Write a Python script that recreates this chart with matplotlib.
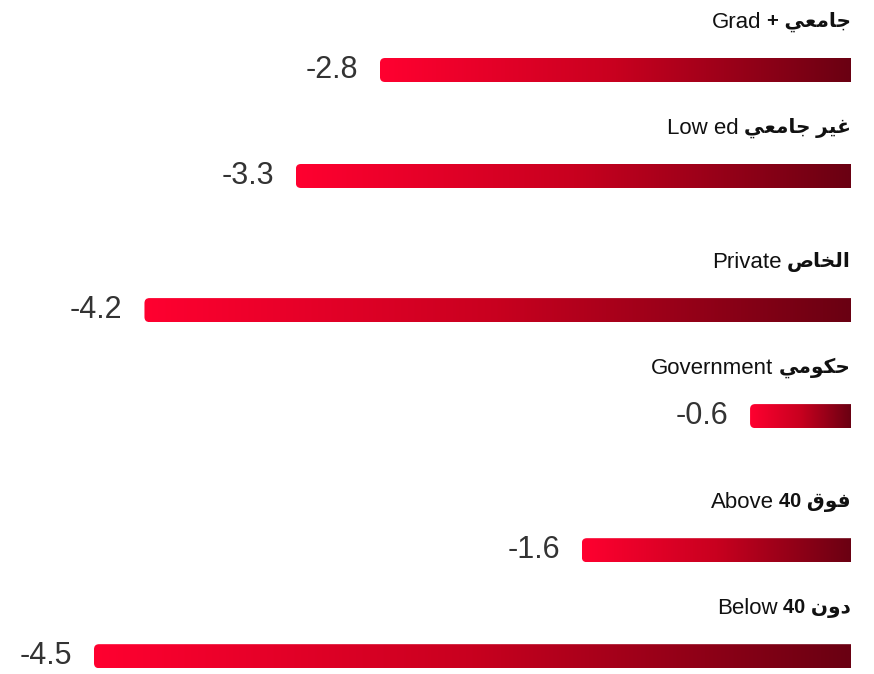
import matplotlib
matplotlib.use("Agg")
import matplotlib.pyplot as plt
import numpy as np
from matplotlib.patches import FancyBboxPatch
from matplotlib.colors import LinearSegmentedColormap

# --- data ---
labels_ar = ["جامعي +", "غير جامعي", "الخاص", "حكومي", "فوق 40", "دون 40"]
labels_en = ["Grad", "Low ed", "Private", "Government", "Above", "Below"]
values = [-2.8, -3.3, -4.2, -0.6, -1.6, -4.5]
groups = [0, 0, 1, 1, 2, 2]

# --- minimal arabic shaping (matplotlib has no bidi / shaping) ---
FORMS = {
    "ا": (0xFE8D, 0xFE8E), "د": (0xFEA9, 0xFEAA), "ر": (0xFEAD, 0xFEAE),
    "و": (0xFEED, 0xFEEE),
    "ج": (0xFE9D, 0xFE9E, 0xFE9F, 0xFEA0), "ح": (0xFEA1, 0xFEA2, 0xFEA3, 0xFEA4),
    "خ": (0xFEA5, 0xFEA6, 0xFEA7, 0xFEA8), "ص": (0xFEB9, 0xFEBA, 0xFEBB, 0xFEBC),
    "ع": (0xFEC9, 0xFECA, 0xFECB, 0xFECC), "غ": (0xFECD, 0xFECE, 0xFECF, 0xFED0),
    "ف": (0xFED1, 0xFED2, 0xFED3, 0xFED4), "ق": (0xFED5, 0xFED6, 0xFED7, 0xFED8),
    "ك": (0xFED9, 0xFEDA, 0xFEDB, 0xFEDC), "ل": (0xFEDD, 0xFEDE, 0xFEDF, 0xFEE0),
    "م": (0xFEE1, 0xFEE2, 0xFEE3, 0xFEE4), "ن": (0xFEE5, 0xFEE6, 0xFEE7, 0xFEE8),
    "ي": (0xFEF1, 0xFEF2, 0xFEF3, 0xFEF4),
}


def shape_word(w):
    if not any(c in FORMS for c in w):
        return w
    out = []
    for i, c in enumerate(w):
        f = FORMS.get(c)
        if f is None:
            out.append(c)
            continue
        prev = w[i - 1] if i > 0 else None
        nxt = w[i + 1] if i < len(w) - 1 else None
        jp = prev in FORMS and len(FORMS[prev]) == 4
        jn = nxt in FORMS and len(f) == 4
        if jp and jn:
            g = f[3]
        elif jp:
            g = f[1]
        elif jn:
            g = f[2]
        else:
            g = f[0]
        out.append(chr(g))
    return "".join(reversed(out))


def visual(s):
    return " ".join(shape_word(w) for w in reversed(s.split(" ")))


# --- layout ---
fig = plt.figure(figsize=(8.74, 6.74), dpi=100)
ax = fig.add_axes([0, 0, 851 / 874, 1])
scale = 757 / 4.5  # px per unit
row_px = 106
ax.axis("off")

pos = np.arange(len(values)) + 0.265 * np.array(groups)
bar_h = 24 / row_px
cmap = LinearSegmentedColormap.from_list("rd", ["#ff0030", "#c8001f", "#6a0012"])
grad = np.linspace(0, 1, 256).reshape(1, -1)

# aspect for round corners: data-y per px / data-x per px
m_aspect = (1 / row_px) / (1 / scale)

fam = ["Liberation Sans", "DejaVu Sans"]

for y, v, ar, en in zip(pos, values, labels_ar, labels_en):
    box = FancyBboxPatch((v, y - bar_h / 2), -v + 0.2, bar_h,
                         boxstyle="round,pad=0,rounding_size=0.03",
                         mutation_aspect=m_aspect,
                         facecolor="none", edgecolor="none")
    ax.add_patch(box)
    im = ax.imshow(grad, cmap=cmap, aspect="auto",
                   extent=(v, 0, y + bar_h / 2, y - bar_h / 2),
                   interpolation="bilinear")
    im.set_clip_path(box)

    ax.text(v - 22 / scale, y, f"{v:.1f}", ha="right", va="center",
            fontsize=22, color="#333333", family=fam)

    t = ax.text(0, y - 48 / row_px, visual(ar), ha="right", va="center",
                fontsize=14.5, fontweight="bold", color="#111111", family=fam)
    ax.annotate(en, xy=(0, 0.5), xycoords=t, xytext=(-4, 0),
                textcoords="offset points", ha="right", va="center",
                fontsize=16, color="#111111", family=fam)

ax.set_ylim((674 - 70) / row_px, -70 / row_px)
ax.set_xlim(-851 / scale, 0)
fig.savefig("out.png", dpi=100, facecolor="white")
